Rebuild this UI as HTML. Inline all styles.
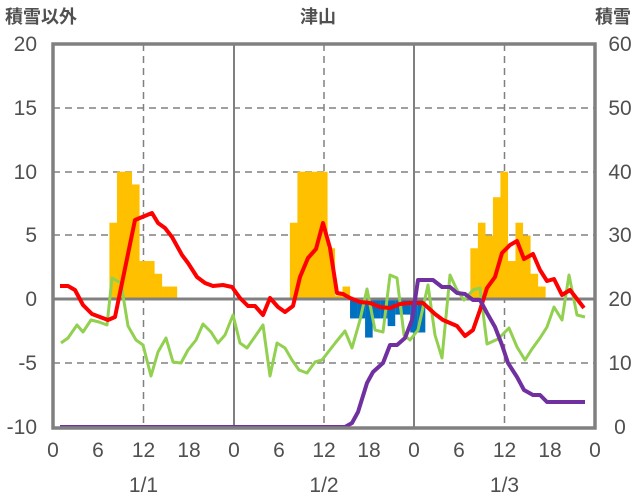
<!DOCTYPE html>
<html><head><meta charset="utf-8"><style>
body{margin:0;background:#fff}
svg{display:block}
.t{font-family:"Liberation Sans Narrow","Liberation Sans","Noto Sans CJK JP",sans-serif;font-size:21px;fill:#505050}
.c{font-family:"Liberation Sans","Noto Sans CJK JP",sans-serif;font-size:18px;fill:#505050;font-weight:bold}
</style></head><body>
<svg width="636" height="501" viewBox="0 0 636 501" xmlns="http://www.w3.org/2000/svg">
<g stroke="#808080" stroke-width="1.5" stroke-dasharray="7,5">
<line x1="53" y1="108" x2="595" y2="108"/><line x1="53" y1="172" x2="595" y2="172"/>
<line x1="53" y1="235" x2="595" y2="235"/><line x1="53" y1="363" x2="595" y2="363"/>
<line x1="143.5" y1="44" x2="143.5" y2="427"/><line x1="324" y1="44" x2="324" y2="427"/><line x1="504.5" y1="44" x2="504.5" y2="427"/>
</g>
<g stroke="#808080" stroke-width="2"><line x1="234" y1="44" x2="234" y2="427"/><line x1="414" y1="44" x2="414" y2="427"/></g>
<g id="bars"></g>
<line x1="53" y1="299" x2="595" y2="299" stroke="#808080" stroke-width="3"/>
<polyline fill="none" stroke="#92D050" stroke-width="3" stroke-linejoin="round" points="61,343 68,338 77,325 83,332 91,320 99,322 107,325 112,278 121,283 128,326 136,340 143,345 151,376 158,352 166,338 173,362 181,363 188,350 196,340 203,324 211,332 218,343 225,335 233,315 240,343 247,348 254,338 263,325 270,376 277,343 285,348 292,360 299,370 307,373 315,362 322,360 329,351 336,342 345,331 352,348 360,320 367,289 375,330 383,332 390,275 397,278 404,335 410,340 418,330 428,285 435,335 442,358 450,275 457,290 464,300 473,290 480,288 487,344 498,339 509,328 517,347 525,360 532,349 540,338 547,327 554,307 562,320 569,275 577,315 585,317"/>
<polyline fill="none" stroke="#FF0000" stroke-width="4" stroke-linejoin="round" points="60,286 68,286 75,290 83,305 92,314 100,317 108,320 115,317 135,220 152,213 158,223 165,228 172,237 182,255 188,263 197,277 205,283 213,286 223,285 232,287 240,298 248,306 255,306 263,315 270,298 278,307 285,312 293,306 300,277 308,258 316,249 323,223 330,248 337,293 343,294 350,298 360,302 370,303 380,307 390,308 400,304 410,303 423,303 435,314 443,320 457,326 465,336 473,330 480,310 487,288 495,277 502,253 510,245 517,241 524,259 533,254 540,270 547,281 554,279 562,295 570,290 577,299 584,308"/>
<polyline fill="none" stroke="#7030A0" stroke-width="4" stroke-linejoin="round" points="60,427 345,427 352,423 358,412 367,383 373,372 383,363 390,345 397,345 405,338 412,320 418,280 433,280 442,287 450,287 457,293 465,294 473,300 480,300 487,313 495,327 502,345 508,363 517,377 524,390 533,395 540,395 547,402 585,402"/>
<rect x="53" y="44" width="542" height="384" fill="none" stroke="#808080" stroke-width="3.5"/>
<g class="t" text-anchor="end">
<text x="37" y="51">20</text><text x="37" y="115">15</text><text x="37" y="179">10</text><text x="37" y="242">5</text><text x="37" y="306">0</text><text x="37" y="370">-5</text><text x="37" y="434">-10</text>
</g>
<g class="t" text-anchor="middle">
<text x="620" y="51">60</text><text x="620" y="115">50</text><text x="620" y="179">40</text><text x="620" y="242">30</text><text x="620" y="306">20</text><text x="620" y="370">10</text><text x="620" y="434">0</text>
<text x="53" y="457">0</text><text x="98" y="457">6</text><text x="143.5" y="457">12</text><text x="189" y="457">18</text>
<text x="234" y="457">0</text><text x="279" y="457">6</text><text x="324" y="457">12</text><text x="369" y="457">18</text>
<text x="414" y="457">0</text><text x="459" y="457">6</text><text x="504.5" y="457">12</text><text x="550" y="457">18</text><text x="595" y="457">0</text>
<text x="143.5" y="492">1/1</text><text x="324" y="492">1/2</text><text x="504.5" y="492">1/3</text>
</g>
<text class="c" x="5" y="23">積雪以外</text>
<text class="c" x="318" y="23" text-anchor="middle">津山</text>
<text class="c" x="631" y="23" text-anchor="end">積雪</text>
</svg>
<script>
var y=function(v){return 299.3-12.76*v};
var d={8:6,9:10,10:10,11:9,12:3,13:3,14:2,15:1,16:1,32:6,33:10,34:10,35:10,36:10,37:4,38:0.3,39:1,56:4,57:6,58:5,59:8,60:10,61:3,62:6,63:5,64:2,65:1};
var b={40:-1.5,41:-1.5,42:-3,43:-1.5,44:-1.5,45:-2.1,46:-1.2,47:-1.2,48:-2.6,49:-2.6};
var s='';
function r(h,v,c){var x=53+(h-0.5)*7.52,y0=y(0),y1=y(v);s+='<rect x="'+x+'" y="'+Math.min(y0,y1)+'" width="7.6" height="'+Math.abs(y1-y0)+'" fill="'+c+'"/>';}
for(var k in d)r(+k,d[k],'#FFC000');for(var k in b)r(+k,b[k],'#0070C0');
document.getElementById('bars').innerHTML=s;
</script>
</body></html>
